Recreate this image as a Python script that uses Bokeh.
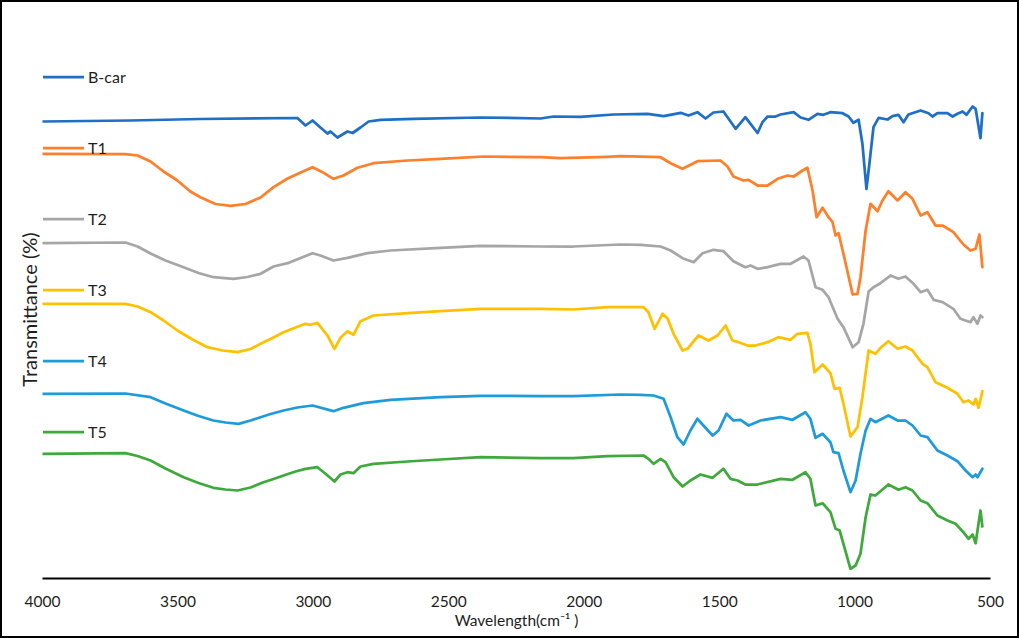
from bokeh.plotting import figure
from bokeh.models import Range1d, FixedTicker, Legend, LegendItem
from bokeh.embed import file_html
from bokeh.resources import INLINE

# FTIR spectra: (wavenumber cm-1, transmittance in arbitrary offset units)
bcar = [(4000, 457), (3675, 458), (3417, 459.5), (3059, 460.5), (3029, 453), (3003, 458), (2974, 451),
        (2948, 445), (2937, 447), (2911, 441), (2874, 447), (2855, 445.5), (2826, 451), (2796, 457),
        (2752, 458.7), (2630, 459.7), (2383, 461), (2161, 460), (2113, 462), (2014, 461.7), (1892, 464),
        (1766, 464.7), (1707, 462.3), (1644, 465.7), (1615, 463), (1582, 466.3), (1552, 460), (1523, 466),
        (1486, 467), (1441, 449.7), (1405, 461.3), (1386, 454.7), (1360, 445.5), (1342, 456.3), (1323, 462),
        (1294, 462), (1275, 464), (1227, 466.3), (1201, 461), (1172, 458.7), (1139, 464.7), (1117, 463.7),
        (1091, 466.3), (1046, 465.3), (1024, 462), (1006, 455.7), (987, 458.7), (973, 435), (958, 389.5),
        (947, 415), (932, 451.3), (913, 460.7), (880, 459), (862, 462.3), (840, 463.7), (821, 456.3),
        (803, 464), (758, 468), (729, 465.3), (714, 462), (696, 465.3), (659, 465.3), (640, 462),
        (622, 464.7), (603, 467), (589, 463.7), (566, 472), (555, 469.7), (537, 440.3), (530, 465.3)]

t1 = [(4000, 424.7), (3694, 424.3), (3649, 423), (3601, 417), (3553, 407), (3502, 398), (3454, 387),
      (3417, 381.3), (3361, 374.5), (3306, 372.7), (3251, 374.5), (3195, 381),
      (3147, 391.3), (3095, 400), (3047, 406), (3003, 411.3), (2966, 406.3), (2926, 399.7), (2889, 403), (2837, 410.7),
      (2778, 415.3), (2652, 418), (2531, 419.7), (2372, 422), (2161, 421.3), (2088, 420.3), (1914, 421.7),
      (1866, 422.3), (1718, 421.3), (1681, 415.3), (1637, 409.7), (1582, 417.3), (1497, 418), (1471, 412),
      (1449, 402), (1412, 398), (1393, 398.7), (1360, 393), (1323, 393), (1286, 399.7), (1249, 403),
      (1227, 402), (1194, 408), (1176, 410.7), (1157, 388), (1142, 361.3), (1120, 370.7), (1098, 361.3),
      (1083, 356.3), (1072, 343), (1061, 345.3), (1043, 324.7), (1009, 284), (991, 284.7), (980, 301.3),
      (961, 348), (943, 374.7), (917, 367.3), (899, 378), (877, 387.3), (843, 378), (814, 386.3),
      (788, 379.7), (758, 363), (733, 366.3), (703, 353), (677, 353), (637, 346.3), (600, 334),
      (574, 328), (555, 329.7), (541, 344), (530, 311.3)]

t2 = [(4000, 335.3), (3694, 336), (3649, 332), (3601, 325), (3546, 318), (3479, 311.3), (3424, 305.5),
      (3369, 301.3), (3295, 299.7), (3243, 301.5), (3195, 304.7),
      (3147, 312), (3095, 315.3), (3047, 320.5), (3003, 325.3), (2974, 323), (2926, 318), (2874, 320.7), (2800, 325.3),
      (2715, 328), (2531, 330.7), (2383, 332.7), (2161, 332), (2040, 332), (1866, 334), (1792, 333.7),
      (1718, 332), (1681, 328), (1637, 320.3), (1596, 316.3), (1563, 325.3), (1523, 328.7), (1486, 327.3),
      (1449, 317.3), (1405, 311.3), (1386, 313), (1360, 309.7), (1323, 311.3), (1275, 314.7), (1238, 314.7),
      (1190, 322), (1172, 318), (1146, 291.3), (1120, 288.7), (1098, 281.3), (1065, 260), (1043, 251.3),
      (1009, 231.3), (987, 236.3), (969, 254.7), (950, 287), (932, 291.3), (906, 295.3), (869, 303),
      (840, 299.7), (814, 302), (784, 294.7), (758, 286.3), (733, 288.7), (710, 278.7), (677, 276.3),
      (637, 269.7), (611, 259.7), (574, 256.3), (563, 261.3), (548, 254.7), (537, 263), (530, 261.3)]

t3 = [(4000, 274.7), (3694, 274.7), (3649, 272), (3601, 266.3), (3553, 258), (3502, 248), (3446, 239),
      (3391, 231.3), (3335, 228), (3280, 226.3), (3232, 229.5), (3195, 234.7), (3151, 240.5),
      (3110, 246.3), (3066, 251), (3029, 254.7), (3011, 253.7), (2985, 255.7), (2948, 243), (2922, 229.7), (2900, 240.7),
      (2874, 247.3), (2852, 243.7), (2826, 257.3), (2778, 263), (2652, 265.3), (2531, 267.3), (2383, 269.7),
      (2161, 269.7), (2040, 269), (1914, 271.3), (1781, 271.3), (1763, 266.3), (1740, 249.7), (1711, 264.7),
      (1692, 259.7), (1670, 244.7), (1637, 228), (1619, 229.7), (1578, 243), (1541, 238), (1508, 243),
      (1478, 253), (1453, 238), (1430, 236.3), (1397, 233), (1368, 233), (1323, 236.3), (1283, 241.3),
      (1238, 238.7), (1213, 244.7), (1176, 245.7), (1165, 234.7), (1150, 206.3), (1120, 214), (1091, 205.3),
      (1076, 189.7), (1057, 190.7), (1043, 174.7), (1017, 142), (991, 151.3), (973, 181.3), (950, 228),
      (925, 224.7), (906, 230.7), (877, 237.3), (843, 229.7), (814, 232), (788, 228), (751, 214.7),
      (733, 211.3), (703, 196.3), (659, 190.7), (622, 184.7), (600, 176.3), (581, 178), (563, 174),
      (555, 179.7), (544, 170.7), (530, 187.3)]

t4 = [(4000, 184.7), (3694, 185), (3601, 181.3), (3546, 175), (3479, 168), (3424, 162.5), (3369, 158),
      (3324, 156), (3276, 154.7), (3232, 158), (3195, 161.3), (3158, 164.5),
      (3110, 168), (3059, 171), (3003, 173), (2926, 167.3), (2889, 170.7), (2815, 175.3), (2715, 178.7), (2531, 181.3),
      (2383, 182.7), (2161, 182.3), (2040, 182.3), (1866, 184), (1792, 183.7), (1744, 183), (1707, 179.7),
      (1681, 161.3), (1656, 141.3), (1633, 134), (1608, 148), (1582, 159.7), (1560, 153), (1526, 143),
      (1504, 148), (1475, 164.7), (1449, 158), (1423, 158.7), (1393, 153), (1349, 158), (1275, 161.3),
      (1231, 158.7), (1183, 166.3), (1165, 159.7), (1146, 140.7), (1120, 144.7), (1091, 136.3), (1080, 126.3),
      (1061, 125.3), (1043, 108), (1017, 86.3), (998, 98), (980, 124.7), (961, 148), (943, 159.7),
      (925, 156.3), (877, 163), (843, 158), (814, 158), (788, 153), (758, 143), (733, 141.3), (696, 128),
      (659, 123), (622, 117.3), (592, 108), (566, 101.3), (555, 104), (548, 101.3), (530, 109.7)]

t5 = [(4000, 124.7), (3694, 125.3), (3649, 122.5), (3601, 118), (3546, 110), (3479, 101.3), (3424, 95.5),
      (3369, 90.7), (3324, 89), (3280, 88), (3232, 91), (3184, 96.3), (3147, 99.5),
      (3110, 103), (3066, 107), (3029, 109.7), (2985, 111.3), (2955, 104.7), (2922, 97), (2900, 104), (2874, 106.3),
      (2852, 105.3), (2826, 112), (2778, 114.7), (2652, 117), (2531, 119), (2383, 121.3), (2161, 120.3),
      (2040, 120.3), (1914, 122.3), (1781, 123), (1763, 119.7), (1744, 114.7), (1718, 119.7), (1700, 116.3),
      (1670, 101.3), (1637, 92), (1608, 98), (1571, 104), (1526, 100.7), (1486, 109.7), (1460, 99.7),
      (1434, 98), (1405, 94), (1360, 94), (1275, 99.7), (1231, 98.7), (1183, 106.3), (1165, 99.7),
      (1146, 73), (1120, 75.3), (1091, 66.3), (1072, 49.7), (1057, 48), (1043, 34.7), (1017, 9.7),
      (998, 13), (980, 24.7), (961, 61.3), (943, 84), (925, 83), (877, 94), (840, 88.7), (814, 91.3),
      (788, 88), (758, 78), (733, 75.3), (696, 63), (659, 58), (629, 54.7), (600, 46.3), (581, 39.7),
      (566, 44), (555, 35.3), (537, 68), (530, 52)]

names = ["B-car", "T1", "T2", "T3", "T4", "T5"]
spectra = [bcar, t1, t2, t3, t4, t5]
colors = ["#1F6FC6", "#FF7F2A", "#A6A6A6", "#FFC000", "#1F9BDA", "#3FAA3C"]
x_ticks = [4000, 3500, 3000, 2500, 2000, 1500, 1000, 500]

FONT = "Lato"
TXT = "#1e1e1e"

p = figure(width=1015, height=634, output_backend="svg", toolbar_location=None,
           x_range=Range1d(4000, 500), y_range=Range1d(0, 538),
           min_border_left=40, min_border_right=27, min_border_top=38, min_border_bottom=58,
           background_fill_color="white", border_fill_color="white")
p.margin = (2, 2, 2, 2)
p.styles = {"outline": "2px solid black"}
p.outline_line_color = None
p.xgrid.visible = False
p.ygrid.visible = False

items = []
for name, data, col in zip(names, spectra, colors):
    xs = [d[0] for d in data]
    ys = [d[1] for d in data]
    r = p.line(xs, ys, line_color=col, line_width=2.75, line_join="round", line_cap="round")
    items.append(LegendItem(label=name, renderers=[r]))

legend = Legend(items=items, location="top_left", margin=1, padding=0, spacing=0,
                glyph_width=41, glyph_height=71, label_height=71, label_standoff=4,
                label_text_font=FONT, label_text_font_size="16px", label_text_color=TXT,
                background_fill_alpha=0, border_line_alpha=0)
p.add_layout(legend)

xa = p.xaxis[0]
xa.ticker = FixedTicker(ticks=x_ticks)
xa.axis_line_color = "black"
xa.axis_line_width = 2
xa.major_tick_line_color = None
xa.minor_tick_line_color = None
xa.major_tick_out = 0
xa.minor_tick_out = 0
xa.major_label_standoff = 17
xa.major_label_text_font = FONT
xa.major_label_text_font_size = "15.5px"
xa.major_label_text_color = TXT
xa.axis_label = "Wavelength(cm\u207b\u00b9 )"
xa.axis_label_text_font = FONT
xa.axis_label_text_font_size = "15.5px"
xa.axis_label_text_font_style = "normal"
xa.axis_label_text_color = TXT
xa.axis_label_standoff = 1

ya = p.yaxis[0]
ya.ticker = FixedTicker(ticks=[])
ya.axis_line_color = None
ya.major_tick_line_color = None
ya.minor_tick_line_color = None
ya.major_tick_out = 0
ya.minor_tick_out = 0
ya.major_label_text_font_size = "0px"
ya.axis_label = "Transmittance (%)"
ya.axis_label_text_font = FONT
ya.axis_label_text_font_size = "20px"
ya.axis_label_text_font_style = "normal"
ya.axis_label_text_color = TXT
ya.axis_label_standoff = 2

open("out.html", "w").write(file_html(p, INLINE))
